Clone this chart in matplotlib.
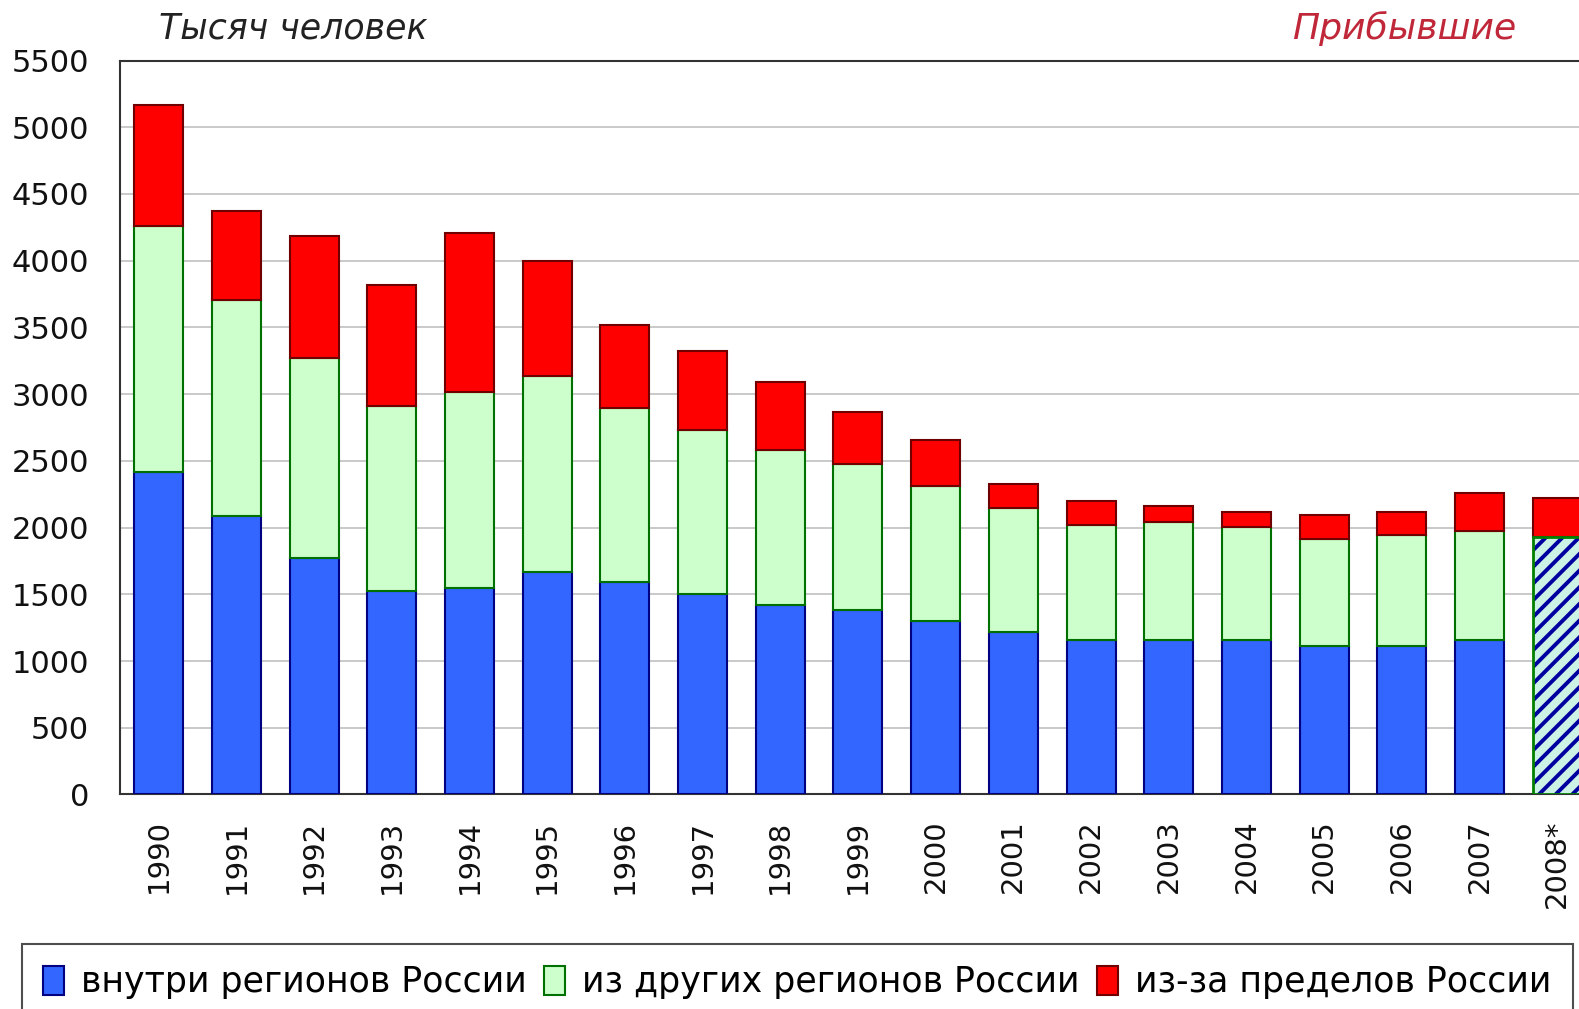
import numpy as np
import matplotlib
matplotlib.use("Agg")
import matplotlib.pyplot as plt
from matplotlib.patches import Patch

# Прибывшие, тысяч человек
years = ["1990", "1991", "1992", "1993", "1994", "1995", "1996", "1997", "1998",
         "1999", "2000", "2001", "2002", "2003", "2004", "2005", "2006", "2007", "2008*"]
# внутри регионов России (2008 - без разбивки)
inner = [2420, 2090, 1770, 1525, 1545, 1665, 1590, 1500, 1420,
         1380, 1300, 1215, 1155, 1155, 1155, 1115, 1115, 1155, 0]
# из других регионов России (2008 - всего внутрироссийских)
other = [1840, 1615, 1500, 1385, 1470, 1470, 1305, 1230, 1160,
         1095, 1010, 930, 865, 890, 850, 800, 830, 820, 1930]
# из-за пределов России
abroad = [905, 670, 915, 905, 1190, 865, 625, 590, 510,
          390, 345, 180, 180, 115, 115, 180, 175, 285, 295]

c_blue, c_green, c_red = "#3366ff", "#ccffcc", "#ff0000"
plt.rcParams["hatch.linewidth"] = 2.8

fig = plt.figure(figsize=(15.79, 10.09), dpi=100)
ax = fig.add_axes([0.0759, 0.2126, 0.93, 0.7274])

x = np.arange(len(years))
inner = np.array(inner)
other = np.array(other)
abroad = np.array(abroad)
w = 0.63

ax.bar(x[:-1], inner[:-1], w, color=c_blue, edgecolor="#000080", linewidth=1.5, zorder=3)
ax.bar(x[:-1], other[:-1], w, bottom=inner[:-1], color=c_green, edgecolor="#007000",
       linewidth=1.5, zorder=3)
ax.bar(x, abroad, w, bottom=inner + other, color=c_red, edgecolor="#700000",
       linewidth=1.5, zorder=3)

# 2008 - нет разбивки: штриховка
ax.bar(x[-1], other[-1], w, bottom=inner[-1], facecolor="#ccf2e6", edgecolor="#0000a0",
       hatch="//", linewidth=0, zorder=3)
ax.bar(x[-1], other[-1], w, bottom=inner[-1], facecolor="none", edgecolor="#008000",
       linewidth=2, zorder=4)

ax.set_xlim(-0.5, 18.4)
ax.set_ylim(0, 5500)
ax.set_yticks(np.arange(0, 5501, 500))
ax.yaxis.grid(True, color="#c0c0c0", linewidth=1.2, zorder=0)
ax.set_xticks(x)
ax.set_xticklabels(years, rotation=90, fontsize=21, color="#111111")
ax.tick_params(axis="y", labelsize=22, length=0, pad=22, labelcolor="#111111")
ax.tick_params(axis="x", length=0, pad=18)
for s in ["left", "bottom", "top"]:
    ax.spines[s].set_color("#333333")
    ax.spines[s].set_linewidth(1.5)
ax.spines["right"].set_visible(False)

fig.text(0.101, 0.972, "Тысяч человек", fontsize=25, style="italic",
         color="#222222", va="center", ha="left")
fig.text(0.96, 0.972, "Прибывшие", fontsize=26, style="italic",
         color="#c0283a", va="center", ha="right")

handles = [Patch(facecolor=c_blue, edgecolor="#000080", linewidth=1.5),
           Patch(facecolor=c_green, edgecolor="#007000", linewidth=1.5),
           Patch(facecolor=c_red, edgecolor="#700000", linewidth=1.5)]
labels = ["внутри регионов России", "из других регионов России", "из-за пределов России"]
leg = fig.legend(handles, labels, loc="upper left", ncol=3,
                 bbox_to_anchor=(0.014, -0.036, 0.982, 0.1), mode="expand",
                 fontsize=25, frameon=True, fancybox=False, handlelength=0.6,
                 handleheight=0.9, handletextpad=0.5, columnspacing=0.8,
                 borderaxespad=0, borderpad=0.6)
leg.get_frame().set_edgecolor("#222222")
leg.get_frame().set_linewidth(1.5)

fig.savefig("out.png", dpi=100)
